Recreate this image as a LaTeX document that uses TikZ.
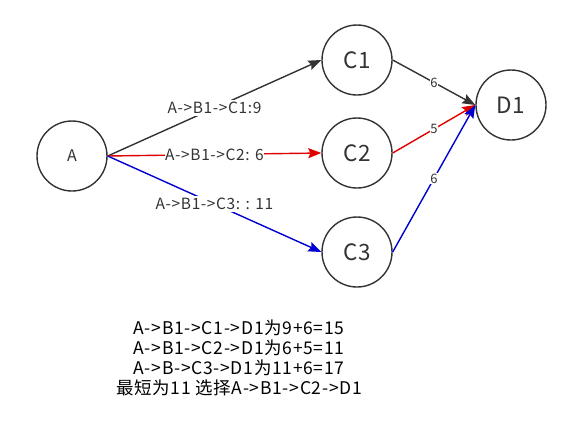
\documentclass[tikz,border=0pt]{standalone}
\usepackage{fontspec}
\setmainfont{Noto Sans CJK SC}[LetterSpace=4]
\usetikzlibrary{arrows.meta}
\definecolor{ink}{HTML}{333333}
\definecolor{redline}{HTML}{E00000}
\definecolor{blueline}{HTML}{0000D0}
\tikzset{
  vert/.style={circle,draw=ink,line width=1.4pt,minimum size=70pt,inner sep=0pt,text=ink},
  edge/.style={line width=1.4pt,-{Stealth[length=13pt,width=10pt,inset=2pt]}},
  lbl/.style={fill=white,text=ink,inner xsep=0.5pt,inner ysep=2.5pt,font=\fontsize{15.5}{18}\selectfont},
  wlbl/.style={fill=white,text=ink,inner sep=0.5pt,font=\fontsize{13}{15}\selectfont},
}
\begin{document}
\begin{tikzpicture}[x=1pt,y=-1pt]
\useasboundingbox (0,0) rectangle (574,442);
\node[vert,font=\fontsize{16}{18}\selectfont] (A) at (72,156) {A};
\node[vert,font=\fontsize{22.5}{24}\selectfont] (C1) at (357,60) {C1};
\node[vert,font=\fontsize{22.5}{24}\selectfont] (C2) at (357,153) {C2};
\node[vert,font=\fontsize{22.5}{24}\selectfont] (C3) at (357,252) {C3};
\node[vert,font=\fontsize{22.5}{24}\selectfont] (D1) at (511,105) {D1};

\draw[edge,draw=ink,fill=ink] (A.east) -- node[lbl]{A->B1->C1:9} (C1.west);
\draw[edge,draw=redline,fill=redline] (A.east) -- node[lbl]{A->B1->C2: 6} (C2.west);
\draw[edge,draw=blueline,fill=blueline] (A.east) -- node[lbl]{A->B1->C3: : 11} (C3.west);

\draw[edge,draw=ink,fill=ink] (C1.east) -- node[wlbl]{6} (D1.west);
\draw[edge,draw=redline,fill=redline] (C2.east) -- node[wlbl]{5} (D1.west);
\draw[edge,draw=blueline,fill=blueline] (C3.east) -- node[wlbl]{6} (D1.west);

\node[text=black,align=center,font=\fontsize{17.5}{20}\selectfont] (notes) at (239,358)
  {A->B1->C1->D1为9+6=15\\A->B1->C2->D1为6+5=11\\A->B->C3->D1为11+6=17\\最短为11 选择A->B1->C2->D1};
\end{tikzpicture}
\end{document}
